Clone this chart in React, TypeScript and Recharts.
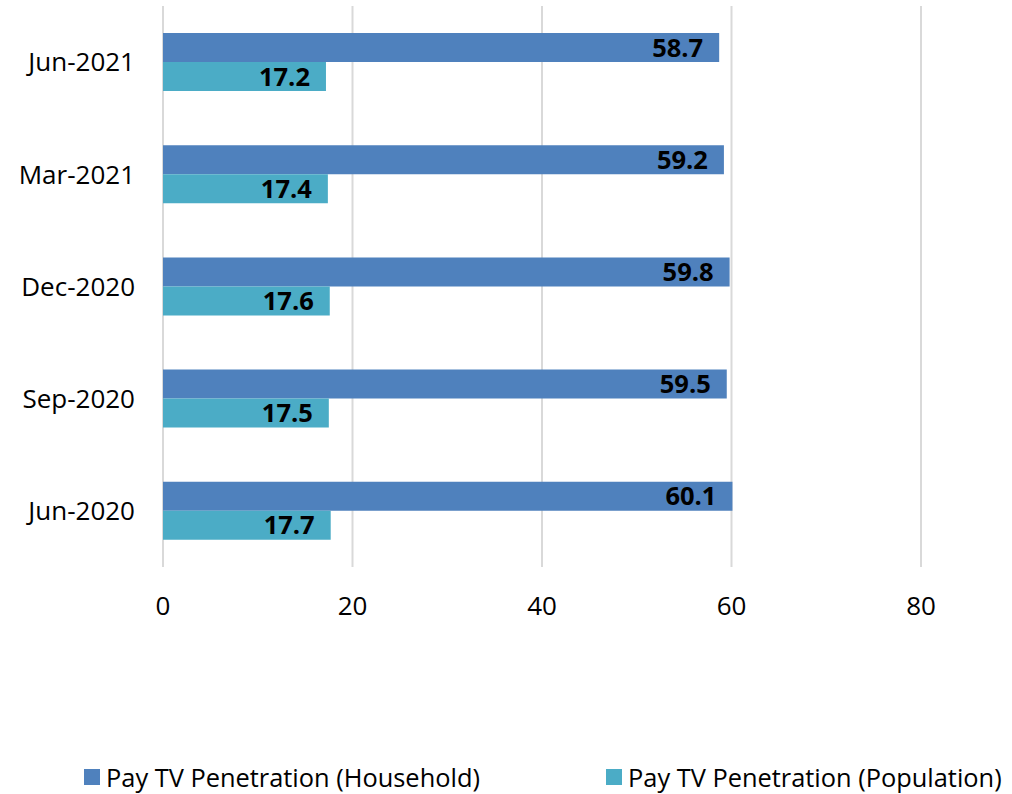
import * as React from "react";
import {
  BarChart,
  Bar,
  CartesianGrid,
  LabelList,
  XAxis,
  YAxis,
} from "recharts";

const periods = ["Jun-2021", "Mar-2021", "Dec-2020", "Sep-2020", "Jun-2020"];
const household = [58.7, 59.2, 59.8, 59.5, 60.1];
const population = [17.2, 17.4, 17.6, 17.5, 17.7];
const xTicks = [0, 20, 40, 60, 80];

const HOUSEHOLD_COLOR = "#4F81BD";
const POPULATION_COLOR = "#4BACC6";
const FONT = "'Open Sans', sans-serif";

const data = periods.map((p, i) => ({
  period: p,
  household: household[i],
  population: population[i],
}));

const labelStyle = { fill: "#000", fontSize: 25.5, fontWeight: 700, fontFamily: FONT };

function LegendItem({ color, text, left }: { color: string; text: string; left: number }) {
  return (
    <div
      style={{
        position: "absolute",
        left,
        top: 0,
        display: "flex",
        alignItems: "center",
        whiteSpace: "nowrap",
      }}
    >
      <div style={{ width: 16, height: 16, background: color, marginRight: 6 }} />
      <span>{text}</span>
    </div>
  );
}

export default function App() {
  return (
    <div
      style={{
        position: "absolute",
        left: 0,
        top: 0,
        width: 1012,
        height: 794,
        background: "#fff",
        fontFamily: FONT,
      }}
    >
      <BarChart
        layout="vertical"
        width={1012}
        height={640}
        data={data}
        margin={{ top: 6, right: 91, left: 0, bottom: 23 }}
        barGap={0}
        barSize={29}
      >
        <CartesianGrid horizontal={false} stroke="#D9D9D9" strokeWidth={2} />
        <XAxis
          type="number"
          domain={[0, 80]}
          ticks={xTicks}
          axisLine={false}
          tickLine={false}
          tickSize={0}
          tickMargin={30}
          height={50}
          tick={{ fill: "#000", fontSize: 26, fontFamily: FONT }}
        />
        <YAxis
          type="category"
          dataKey="period"
          width={163}
          axisLine={false}
          tickLine={false}
          tickSize={0}
          tickMargin={28}
          tick={{ fill: "#000", fontSize: 26, fontFamily: FONT }}
        />
        <Bar dataKey="household" fill={HOUSEHOLD_COLOR} isAnimationActive={false}>
          <LabelList dataKey="household" position="insideRight" offset={16} style={labelStyle} />
        </Bar>
        <Bar dataKey="population" fill={POPULATION_COLOR} isAnimationActive={false}>
          <LabelList dataKey="population" position="insideRight" offset={16} style={labelStyle} />
        </Bar>
      </BarChart>
      <div
        style={{
          position: "absolute",
          top: 760,
          left: 0,
          width: 1012,
          height: 34,
          fontSize: 25.4,
          color: "#000",
        }}
      >
        <LegendItem left={84} color={HOUSEHOLD_COLOR} text="Pay TV Penetration (Household)" />
        <LegendItem left={606} color={POPULATION_COLOR} text="Pay TV Penetration (Population)" />
      </div>
    </div>
  );
}
